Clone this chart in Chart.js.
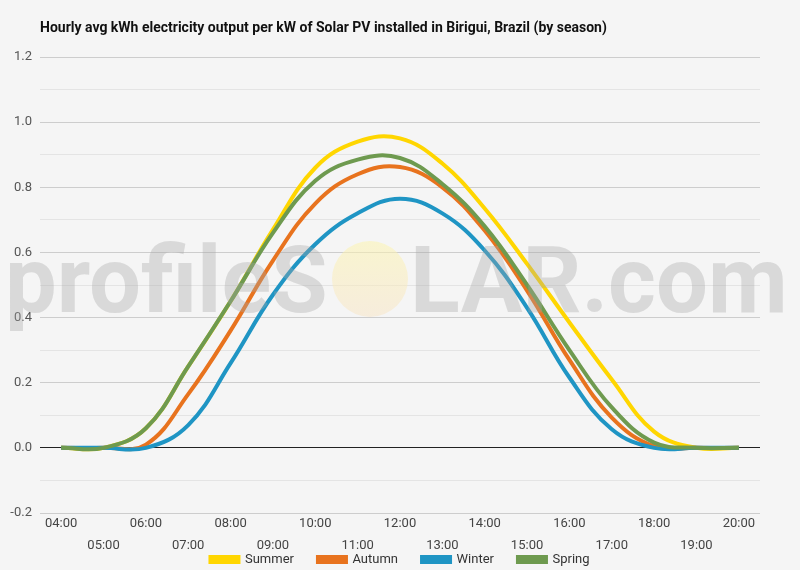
<!DOCTYPE html>
<html>
<head>
<meta charset="utf-8">
<script src="https://cdn.jsdelivr.net/npm/chart.js@4.4.1/dist/chart.umd.min.js"></script>
<style>
  html, body { margin: 0; padding: 0; background: #f5f5f5; }
  #wrap { width: 800px; height: 570px; }
</style>
</head>
<body>
<div id="wrap"><canvas id="solarChart" width="800" height="570"></canvas></div>
<script>
// Hours of the day (x axis)
const hours = ['04:00', '05:00', '06:00', '07:00', '08:00', '09:00', '10:00', '11:00', '12:00',
               '13:00', '14:00', '15:00', '16:00', '17:00', '18:00', '19:00', '20:00'];

// Hourly avg kWh per kW installed, by season
const summer = [0, 0, 0.06, 0.25, 0.45, 0.67, 0.86, 0.94, 0.95, 0.873, 0.735, 0.565, 0.385, 0.21, 0.05, 0, 0];
const autumn = [0, 0, 0.01, 0.165, 0.36, 0.575, 0.75, 0.84, 0.862, 0.80, 0.667, 0.483, 0.27, 0.093, 0.005, 0, 0];
const winter = [0, 0, 0, 0.07, 0.26, 0.47, 0.625, 0.72, 0.765, 0.72, 0.606, 0.43, 0.216, 0.057, 0, 0, 0];
const spring = [0, 0, 0.06, 0.25, 0.45, 0.66, 0.82, 0.885, 0.89, 0.81, 0.68, 0.50, 0.30, 0.124, 0.016, 0, 0];

const seasonNames = ['Summer', 'Autumn', 'Winter', 'Spring'];
const seasonColors = ['#FFD600', '#E8731E', '#1F95C4', '#6E9A4F'];

const yMin = -0.2;
const yMax = 1.2;

// Title drawn at fixed spot, left aligned with plot
const titlePlugin = {
    id: 'fixedTitle',
    afterDraw(chart) {
        const ctx = chart.ctx;
        ctx.save();
        ctx.font = 'bold 14px Roboto';
        ctx.fillStyle = '#111';
        ctx.textBaseline = 'middle';
        ctx.textAlign = 'left';
        ctx.fillText('Hourly avg kWh electricity output per kW of Solar PV installed in Birigui, Brazil (by season)', 40, 28);
        ctx.restore();
    }
};

// profileSOLAR watermark over the lines
const watermarkPlugin = {
    id: 'watermark',
    afterDatasetsDraw(chart) {
        const ctx = chart.ctx;
        ctx.save();
        ctx.font = 'bold 92px Roboto';
        ctx.fillStyle = 'rgba(165,165,165,0.35)';
        ctx.textBaseline = 'alphabetic';
        ctx.textAlign = 'left';
        ctx.fillText('profileS', 5, 312);
        ctx.fillText('LAR.com', 410, 312);
        // sun in place of the O
        const grad = ctx.createLinearGradient(0, 241, 0, 317);
        grad.addColorStop(0, 'rgba(252,244,175,0.55)');
        grad.addColorStop(1, 'rgba(248,228,195,0.5)');
        ctx.fillStyle = grad;
        ctx.beginPath();
        ctx.arc(370, 279, 38, 0, Math.PI * 2);
        ctx.fill();
        ctx.restore();
    }
};

const bgPlugin = {
    id: 'bg',
    beforeDraw(chart) {
        const ctx = chart.ctx;
        ctx.save();
        ctx.fillStyle = '#f5f5f5';
        ctx.fillRect(0, 0, chart.width, chart.height);
        ctx.restore();
    }
};

// centre the legend on the whole canvas, not on the padded layout box
const legendShift = {
    id: 'legendShift',
    afterLayout(chart) {
        if (chart.legend) {
            chart.legend.left += 20;
            chart.legend.right += 20;
        }
    }
};

const seriesData = [summer, autumn, winter, spring];

const ctx = document.getElementById('solarChart').getContext('2d');
const solarChart = new Chart(ctx, {
    type: 'line',
    data: {
        labels: hours,
        datasets: seriesData.map(function(values, i) {
            return {
                label: seasonNames[i],
                data: values,
                borderColor: seasonColors[i],
                backgroundColor: seasonColors[i],
                borderWidth: 4,
                tension: 0.4,
                pointRadius: 0,
                pointHoverRadius: 0,
                fill: false,
                order: 4 - i
            };
        })
    },
    options: {
        responsive: false,
        animation: false,
        devicePixelRatio: 1,
        layout: {
            padding: { left: 0, right: 40, top: 57, bottom: -6 }
        },
        plugins: {
            title: { display: false },
            tooltip: { enabled: false },
            legend: {
                position: 'bottom',
                labels: {
                    boxWidth: 28,
                    boxHeight: 5,
                    padding: 24,
                    color: '#333',
                    font: { family: 'Roboto', size: 13 },
                    sort: function(a, b) { return a.datasetIndex - b.datasetIndex; }
                }
            }
        },
        scales: {
            y: {
                min: yMin,
                max: yMax,
                afterFit: function(scale) { scale.width = 40; },
                border: { display: false },
                grid: {
                    drawTicks: false,
                    color: function(c) {
                        const v = Math.round(c.tick.value * 10);
                        if (v === 0) return '#222';
                        return v % 2 === 0 ? '#cdcdcd' : '#e4e4e4';
                    },
                    lineWidth: 1
                },
                ticks: {
                    stepSize: 0.1,
                    padding: 8,
                    color: '#555',
                    font: { family: 'Roboto', size: 13 },
                    callback: function(value) {
                        const v = Math.round(value * 10);
                        return v % 2 === 0 ? (v / 10).toFixed(1) : '';
                    }
                }
            },
            x: {
                offset: true,
                afterFit: function(scale) {
                    // short axis box so the legend sits close; let the 2nd row of labels draw past it
                    scale.height = 16;
                    scale._computeLabelArea = function() { return undefined; };
                },
                border: { display: false },
                grid: { display: false, drawTicks: false },
                ticks: {
                    autoSkip: false,
                    maxRotation: 0,
                    padding: 0,
                    color: '#444',
                    font: { family: 'Roboto', size: 13, lineHeight: 1.7 },
                    callback: function(value, index) {
                        const label = hours[index];
                        return index % 2 === 0 ? [label, ''] : ['', label];
                    }
                }
            }
        }
    },
    plugins: [bgPlugin, watermarkPlugin, titlePlugin, legendShift]
});
</script>
</body>
</html>
